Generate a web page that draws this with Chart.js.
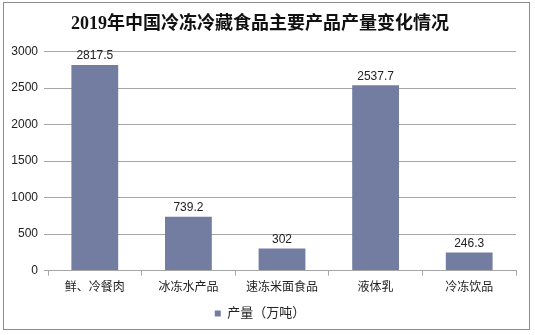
<!DOCTYPE html>
<html>
<head>
<meta charset="utf-8">
<script src="https://cdn.jsdelivr.net/npm/chart.js@4/dist/chart.umd.min.js"></script>
<style>
  html, body { margin: 0; padding: 0; background: #fff; }
  #wrap { position: relative; width: 535px; height: 335px; }
  #frame { position: absolute; left: 3px; top: 2px; width: 527px; height: 328px; border: 1px solid #8c8c8c; box-sizing: border-box; pointer-events: none; }
</style>
</head>
<body>
<div id="wrap">
  <canvas id="chart" width="535" height="335"></canvas>
  <div id="frame"></div>
</div>
<script>
const chartTitle = '2019年中国冷冻冷藏食品主要产品产量变化情况';
const categories = ['鲜、冷餐肉', '冰冻水产品', '速冻米面食品', '液体乳', '冷冻饮品'];
const seriesName = '产量（万吨）';
const output = [2817.5, 739.2, 302, 2537.7, 246.3];
const yTicks = [0, 500, 1000, 1500, 2000, 2500, 3000];

const cnFont = '"Liberation Sans", "Noto Sans CJK SC", sans-serif';

// value labels above each bar
const barLabels = {
    id: 'barLabels',
    afterDatasetsDraw(chart) {
        const ctx = chart.ctx;
        const meta = chart.getDatasetMeta(0);
        ctx.save();
        ctx.font = '12px ' + cnFont;
        ctx.fillStyle = '#222';
        ctx.textAlign = 'center';
        ctx.textBaseline = 'bottom';
        meta.data.forEach((bar, i) => {
            ctx.fillText(String(output[i]), bar.x, bar.y - 3);
        });
        ctx.restore();
    }
};

new Chart(document.getElementById('chart'), {
    type: 'bar',
    data: {
        labels: categories,
        datasets: [{
            label: seriesName,
            data: output,
            backgroundColor: '#727da1',
            categoryPercentage: 1,
            barPercentage: 0.5
        }]
    },
    options: {
        responsive: false,
        animation: false,
        layout: { padding: { left: 4, right: 19, top: 10, bottom: 5 } },
        plugins: {
            title: {
                display: true,
                text: chartTitle,
                color: '#111',
                font: { family: '"Liberation Serif", "Noto Sans CJK SC", serif', size: 18, weight: 'bold' },
                padding: { top: 4, bottom: 16 }
            },
            legend: {
                position: 'bottom',
                labels: {
                    boxWidth: 6,
                    boxHeight: 6,
                    padding: 7,
                    color: '#222',
                    font: { family: cnFont, size: 13 }
                }
            },
            tooltip: { enabled: false }
        },
        scales: {
            y: {
                min: 0,
                max: 3000,
                afterBuildTicks: (scale) => { scale.ticks = yTicks.map(v => ({ value: v })); },
                afterFit: (scale) => { scale.width = 44; },
                border: { display: false },
                grid: { color: '#a6a6a6', tickLength: 4 },
                ticks: { color: '#222', padding: 6, font: { family: cnFont, size: 12 }, callback: (v) => String(v) }
            },
            x: {
                border: { display: true, color: '#a6a6a6' },
                grid: { display: true, drawOnChartArea: false, color: '#a6a6a6', tickLength: 5, offset: true },
                ticks: { color: '#222', padding: 5, font: { family: cnFont, size: 12 }, maxRotation: 0 }
            }
        }
    },
    plugins: [barLabels]
});
</script>
</body>
</html>
